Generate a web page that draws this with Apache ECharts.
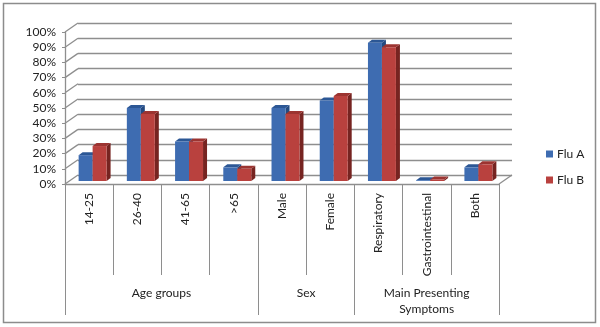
<!DOCTYPE html>
<html>
<head>
<meta charset="utf-8">
<script src="https://cdn.jsdelivr.net/npm/echarts@6/dist/echarts.min.js"></script>
<style>
html,body{margin:0;padding:0;background:#fff;}
#chart{width:600px;height:327px;}
</style>
</head>
<body>
<div id="chart"></div>
<script>
// ---- data ----
const categories = ['14-25', '26-40', '41-65', '>65', 'Male', 'Female', 'Respiratory', 'Gastrointestinal', 'Both'];
const fluA = [17, 48, 26, 9, 48, 53, 91, 0.5, 9];
const fluB = [23, 44, 26, 8, 44, 56, 88, 1, 11];
const groupNames = ['Age groups', 'Sex', 'Main Presenting\nSymptoms'];
const groupSizes = [4, 2, 3];
const yTicks = [0, 10, 20, 30, 40, 50, 60, 70, 80, 90, 100];
const seriesNames = ['Flu A', 'Flu B'];

// ---- style constants ----
const FONT = 'Lato, "Open Sans", sans-serif';
const GRID_COLOR = '#8e8e8e';
const WALL_DX = 13, WALL_DY = -9;   // back wall offset
const PLANE_DX = 3.5, PLANE_DY = -3; // bar plane offset
const BAR_DX = 4, BAR_DY = -3;       // bar depth
const BAR_FRAC = 0.29;
const colors = [
  {front: '#3e6cb1', top: '#2c5795', side: '#244a80'},
  {front: '#b9413e', top: '#9c3431', side: '#762421'}
];

// group boundaries / centers derived from sizes
const groupBounds = [0];
groupSizes.forEach(s => groupBounds.push(groupBounds[groupBounds.length - 1] + s));
const groupCenters = groupSizes.map((s, i) => groupBounds[i] + s / 2);

function barRender(si) {
  return function (params, api) {
    const c = api.coord([api.value(0), api.value(1)]);
    const b = api.coord([api.value(0), 0]);
    const cw = api.size([1, 0])[0];
    const bw = cw * BAR_FRAC;
    const x0 = c[0] + PLANE_DX + (si === 0 ? -bw : 0);
    const yT = c[1] + PLANE_DY, yB = b[1] + PLANE_DY;
    const col = colors[si];
    return {
      type: 'group',
      children: [
        {type: 'polygon', shape: {points: [[x0 + bw, yT], [x0 + bw + BAR_DX, yT + BAR_DY], [x0 + bw + BAR_DX, yB + BAR_DY], [x0 + bw, yB]]}, style: {fill: col.side}},
        {type: 'polygon', shape: {points: [[x0, yT], [x0 + BAR_DX, yT + BAR_DY], [x0 + bw + BAR_DX, yT + BAR_DY], [x0 + bw, yT]]}, style: {fill: col.top}},
        {type: 'rect', shape: {x: x0, y: yT, width: bw, height: Math.max(yB - yT, 0)}, style: {fill: col.front}}
      ]
    };
  };
}

function wallRender(params, api) {
  const v = api.value(1);
  const p = api.coord([0, v]);
  const cw = api.size([1, 0])[0];
  const left = p[0] - cw / 2;
  const children = [{
    type: 'line',
    shape: {x1: left, y1: p[1], x2: left + WALL_DX, y2: p[1] + WALL_DY},
    style: {stroke: GRID_COLOR, lineWidth: 1.3}
  }];
  if (v === 0) {
    const r = api.coord([categories.length - 1, 0])[0] + cw / 2;
    children.push({
      type: 'line',
      shape: {x1: r, y1: p[1], x2: r + WALL_DX, y2: p[1] + WALL_DY},
      style: {stroke: GRID_COLOR, lineWidth: 1.3}
    });
  }
  return {type: 'group', children: children};
}

const chart = echarts.init(document.getElementById('chart'), null, {renderer: 'canvas'});
chart.setOption({
  animation: false,
  backgroundColor: '#fff',
  textStyle: {fontFamily: FONT},
  graphic: [{
    type: 'rect', z: -10,
    shape: {x: 3.5, y: 3.5, width: 592, height: 319},
    style: {fill: 'none', stroke: '#8c8c8c', lineWidth: 1.5}
  }],
  legend: {
    data: seriesNames,
    orient: 'vertical',
    left: 546, top: 148,
    itemWidth: 7, itemHeight: 7, itemGap: 14,
    icon: 'rect',
    padding: 0,
    textStyle: {fontFamily: FONT, fontSize: 12, color: '#222', padding: [0, 0, 0, -1]}
  },
  grid: [
    {left: 65, right: 101, top: 32, bottom: 143, outerBoundsMode: 'none', containLabel: false},
    {left: 78, right: 88, top: 23, bottom: 152, outerBoundsMode: 'none', containLabel: false}
  ],
  xAxis: [
    {
      type: 'category', gridIndex: 0, data: categories, position: 'bottom',
      axisLine: {show: true, lineStyle: {color: GRID_COLOR, width: 1.3}},
      axisTick: {show: true, interval: 0, alignWithLabel: false, length: 91, lineStyle: {color: GRID_COLOR, width: 1}},
      axisLabel: {interval: 0, rotate: 90, margin: 9, fontFamily: FONT, fontSize: 12, color: '#222'},
      splitLine: {show: false}
    },
    {
      type: 'value', gridIndex: 0, min: 0, max: categories.length, position: 'bottom',
      axisLine: {show: false},
      axisTick: {show: true, customValues: groupBounds, length: 131, lineStyle: {color: GRID_COLOR, width: 1}},
      axisLabel: {
        customValues: groupCenters, margin: 101, fontFamily: FONT, fontSize: 12, color: '#222',
        lineHeight: 16, align: 'center',
        formatter: function (v) { const i = groupCenters.indexOf(v); return i >= 0 ? groupNames[i] : ''; }
      },
      splitLine: {show: false}
    },
    {type: 'category', gridIndex: 1, data: categories, show: false}
  ],
  yAxis: [
    {
      type: 'value', gridIndex: 0, min: 0, max: 100, interval: 10,
      axisLine: {show: true, lineStyle: {color: GRID_COLOR, width: 1.3}},
      axisTick: {show: true, length: 3, lineStyle: {color: GRID_COLOR}},
      axisLabel: {formatter: '{value}%', margin: 9, fontFamily: FONT, fontSize: 12, color: '#222'},
      splitLine: {show: false}
    },
    {
      type: 'value', gridIndex: 1, min: 0, max: 100, interval: 10,
      axisLine: {show: false}, axisTick: {show: false}, axisLabel: {show: false},
      splitLine: {show: true, lineStyle: {color: GRID_COLOR, width: 1.3}}
    }
  ],
  series: [
    {
      name: 'wall', type: 'custom', xAxisIndex: 0, yAxisIndex: 0, z: 1, silent: true,
      renderItem: wallRender, encode: {x: 0, y: 1},
      data: yTicks.map(v => [0, v])
    },
    {
      name: seriesNames[0], type: 'custom', xAxisIndex: 0, yAxisIndex: 0, z: 2,
      itemStyle: {color: colors[0].front},
      renderItem: barRender(0), encode: {x: 0, y: 1},
      data: fluA.map((v, i) => [i, v])
    },
    {
      name: seriesNames[1], type: 'custom', xAxisIndex: 0, yAxisIndex: 0, z: 2,
      itemStyle: {color: colors[1].front},
      renderItem: barRender(1), encode: {x: 0, y: 1},
      data: fluB.map((v, i) => [i, v])
    }
  ]
});
</script>
</body>
</html>
